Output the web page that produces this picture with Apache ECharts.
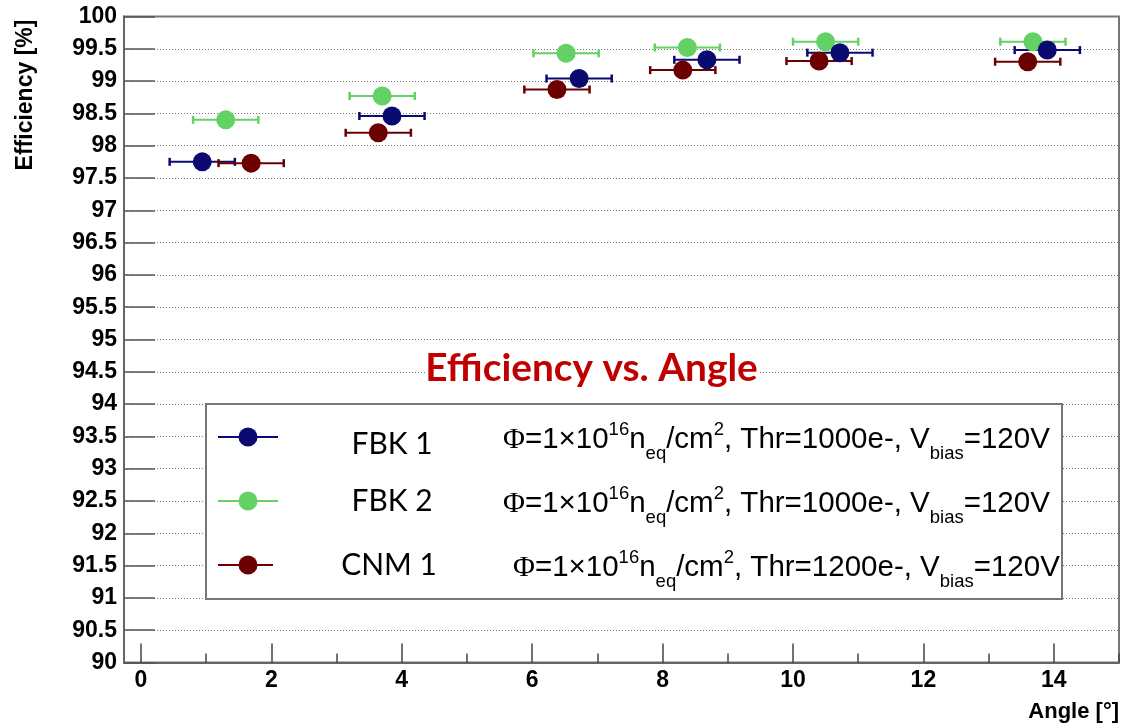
<!DOCTYPE html>
<html><head><meta charset="utf-8">
<script src="https://cdn.jsdelivr.net/npm/echarts@6/dist/echarts.min.js"></script>
<style>html,body{margin:0;padding:0;background:#fff}#c{width:1127px;height:726px}</style>
</head><body><div id="c"></div>
<script>
// ---- data ----
const xTicks = [0, 2, 4, 6, 8, 10, 12, 14];
const xMinorTicks = [1, 3, 5, 7, 9, 11, 13, 15];
const seriesNames = ['FBK 1', 'FBK 2', 'CNM 1'];
const fbk1X = [0.94, 3.85, 6.72, 8.68, 10.72, 13.90];
const fbk1Y = [97.75, 98.46, 99.04, 99.33, 99.44, 99.48];
const fbk2X = [1.30, 3.70, 6.52, 8.38, 10.50, 13.68];
const fbk2Y = [98.40, 98.77, 99.43, 99.52, 99.61, 99.61];
const cnm1X = [1.69, 3.64, 6.38, 8.31, 10.40, 13.60];
const cnm1Y = [97.73, 98.20, 98.87, 99.17, 99.31, 99.30];
const xErr = [0.5, 0.5, 0.5, 0.5, 0.5, 0.5];
const thresholds = ['1000', '1000', '1200'];
const chartTitle = 'Efficiency vs. Angle';
const xTitle = 'Angle [°]';
const yTitle = 'Efficiency [%]';

// ---- styles ----
const colors = ['#0a0a70', '#63d163', '#6c0000'];
const FONT = '"Liberation Sans", Arial, sans-serif';
const SFONT = '"Liberation Serif", serif';
const HFONT = 'Lato, "Open Sans", sans-serif';

const cv = document.createElement('canvas').getContext('2d');
function measure(txt, size, family, weight) {
  cv.font = (weight || 'normal') + ' ' + size + 'px ' + family;
  return cv.measureText(txt).width;
}

const chart = echarts.init(document.getElementById('c'), null, {renderer: 'canvas'});

function pts(xs, ys) { return xs.map((x, i) => [x, ys[i], xErr[i]]); }
const allData = [pts(fbk1X, fbk1Y), pts(fbk2X, fbk2Y), pts(cnm1X, cnm1Y)];
const drawOrder = [1, 0, 2];

const series = [];
drawOrder.forEach(k => {
  series.push({
    type: 'custom', name: seriesNames[k] + ' err', data: allData[k],
    renderItem: function (params, api) {
      const x = api.value(0), y = api.value(1), e = api.value(2);
      const p1 = api.coord([x - e, y]), p2 = api.coord([x + e, y]);
      const st = {stroke: colors[k], lineWidth: 2};
      return {type: 'group', children: [
        {type: 'line', shape: {x1: p1[0], y1: p1[1], x2: p2[0], y2: p2[1]}, style: st},
        {type: 'line', shape: {x1: p1[0], y1: p1[1] - 4, x2: p1[0], y2: p1[1] + 4}, style: {stroke: colors[k], lineWidth: 2.5}},
        {type: 'line', shape: {x1: p2[0], y1: p2[1] - 4, x2: p2[0], y2: p2[1] + 4}, style: {stroke: colors[k], lineWidth: 2.5}}
      ]};
    },
    silent: true
  });
  series.push({
    type: 'scatter', name: seriesNames[k], data: allData[k].map(d => [d[0], d[1]]),
    symbol: 'circle', symbolSize: 19, itemStyle: {color: colors[k], opacity: 1}, silent: true
  });
});

// ---- legend & texts via graphic ----
const graphic = [];
const legRows = [437, 501, 565];
const legTextX = [392, 392, 389];
const formX = [503, 503, 513];
const nameSize = 100 * 81 / measure('FBK 1', 100, HFONT);
graphic.push({type: 'rect', shape: {x: 206, y: 404, width: 856, height: 195},
  style: {fill: '#fff', stroke: '#777', lineWidth: 2}, z: 100});
seriesNames.forEach((nm, i) => {
  const y = legRows[i];
  graphic.push({type: 'line', shape: {x1: 218, y1: y, x2: i === 2 ? 273 : 278, y2: y},
    style: {stroke: colors[i], lineWidth: 2}, z: 101});
  graphic.push({type: 'circle', shape: {cx: 248, cy: y, r: 9.5}, style: {fill: colors[i]}, z: 102});
  graphic.push({type: 'text', x: legTextX[i], y: y + (i === 0 ? 7 : 0),
    style: {text: nm, font: 'normal ' + nameSize.toFixed(1) + 'px ' + HFONT, fill: '#000',
      align: 'center', verticalAlign: 'middle'}, z: 102});
  // formula
  const parts = [['phi', 'Φ'], ['n', '=1×10'], ['sup', '16'], ['n', 'n'], ['sub', 'eq'], ['n', '/cm'], ['sup', '2'],
    ['n', ', Thr=' + thresholds[i] + 'e-, V'], ['sub', 'bias'], ['n', '=120V']];
  const sizes = {phi: 30, n: 29.5, sup: 18.5, sub: 18.5};
  const fams = {phi: SFONT, n: FONT, sup: FONT, sub: FONT};
  const dy = {phi: 0, n: 0, sup: -10, sub: 14};
  let x = formX[i];
  const yc = y + 3;
  parts.forEach(([k, t]) => {
    graphic.push({type: 'text', x: x, y: yc + dy[k],
      style: {text: t, font: 'normal ' + sizes[k] + 'px ' + fams[k], fill: '#000', align: 'left', verticalAlign: 'middle'}, z: 102});
    x += measure(t, sizes[k], fams[k]);
  });
});
const titleSize = 100 * 333 / measure(chartTitle, 100, HFONT, 'bold');
graphic.push({type: 'text', x: 591.5, y: 368,
  style: {text: chartTitle, font: 'bold ' + titleSize.toFixed(1) + 'px ' + HFONT, fill: '#c00000',
    align: 'center', verticalAlign: 'middle', backgroundColor: '#fff'}, z: 90});
graphic.push({type: 'text', x: 26, y: 95, rotation: Math.PI / 2,
  style: {text: yTitle, font: 'bold 23px ' + FONT, fill: '#000', align: 'center', verticalAlign: 'middle'}});
graphic.push({type: 'text', x: 1119, y: 712,
  style: {text: xTitle, font: 'bold 22px ' + FONT, fill: '#000', align: 'right', verticalAlign: 'middle'}});

const option = {
  backgroundColor: '#fff',
  animation: false,
  grid: {left: 124, right: 8, top: 16.5, bottom: 63.5, show: true, borderColor: '#777', borderWidth: 2, backgroundColor: 'transparent'},
  xAxis: [{
    type: 'value', min: -0.26, max: 15,
    axisLine: {show: true, onZero: false, lineStyle: {color: '#666', width: 2}},
    axisTick: {show: true, inside: true, length: 19, customValues: xTicks, lineStyle: {color: '#444', width: 1.5}},
    axisLabel: {show: true, customValues: xTicks, margin: 7, color: '#000', fontFamily: FONT, fontWeight: 'bold', fontSize: 23},
    splitLine: {show: false}
  }, {
    type: 'value', min: -0.26, max: 15, position: 'bottom', offset: 0,
    axisLine: {show: false},
    axisTick: {show: true, inside: true, length: 9, customValues: xMinorTicks, lineStyle: {color: '#444', width: 1.5}},
    axisLabel: {show: false},
    splitLine: {show: false}
  }],
  yAxis: {
    type: 'value', min: 90, max: 100, interval: 0.5,
    axisLine: {show: true, onZero: false, lineStyle: {color: '#666', width: 2}},
    axisTick: {show: true, inside: true, length: 31, lineStyle: {color: '#555', width: 1.5}},
    axisLabel: {show: true, margin: 7, color: '#000', fontFamily: FONT, fontWeight: 'bold', fontSize: 23,
      formatter: v => String(v)},
    splitLine: {show: true, lineStyle: {color: '#777', width: 1, type: [1, 2]}}
  },
  series: series,
  graphic: graphic
};
chart.setOption(option);
</script>
</body></html>
